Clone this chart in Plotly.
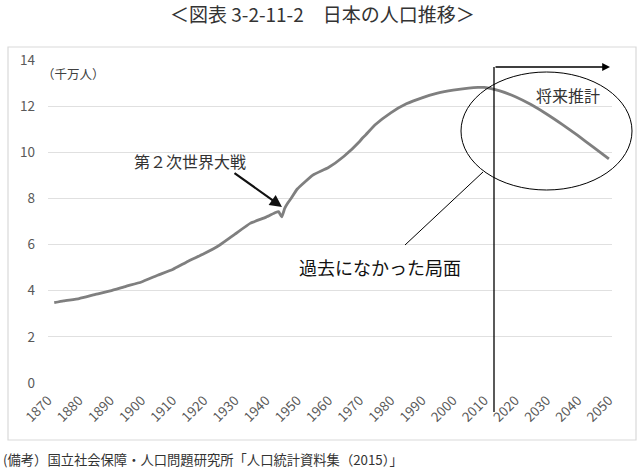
import plotly.graph_objects as go

years = [1872, 1875, 1880, 1885, 1890, 1895, 1900, 1905, 1910, 1915, 1920, 1925,
         1930, 1935, 1940, 1943, 1944, 1945, 1946, 1947, 1948, 1950, 1955, 1960,
         1965, 1970, 1971, 1972, 1975, 1980, 1985, 1990, 1995, 2000, 2005, 2008,
         2010, 2015, 2020, 2025, 2030, 2035, 2040, 2045, 2050]
population = [3.48, 3.56, 3.66, 3.83, 3.99, 4.19, 4.38, 4.66, 4.92, 5.28, 5.60, 5.97,
              6.45, 6.93, 7.19, 7.39, 7.43, 7.20, 7.58, 7.81, 8.00, 8.41, 9.01, 9.34,
              9.83, 10.47, 10.63, 10.76, 11.19, 11.71, 12.10, 12.36, 12.56, 12.69, 12.78, 12.81,
              12.81, 12.66, 12.41, 12.07, 11.66, 11.21, 10.73, 10.22, 9.71]
x_ticks = list(range(1870, 2051, 10))
y_ticks = [0, 2, 4, 6, 8, 10, 12, 14]

title_text = "＜図表 3-2-11-2　日本の人口推移＞"
unit_text = "（千万人）"
war_text = "第２次世界大戦"
future_text = "将来推計"
past_text = "過去になかった局面"
source_text = "(備考）国立社会保障・人口問題研究所「人口統計資料集（2015）」"

FONT = "Noto Sans CJK JP"
L, R, T, B = 48, 27, 60, 87
W, H = 639, 470
PW, PH = W - L - R, H - T - B

def px(xp):
    return (xp - L) / PW

def py(yp):
    return (H - B - yp) / PH

fig = go.Figure()
fig.add_trace(go.Scatter(x=years, y=population, mode="lines",
                         line=dict(color="#7f7f7f", width=2.8, shape="spline", smoothing=0.4),
                         hoverinfo="skip", showlegend=False))

shapes = [
    dict(type="rect", xref="paper", yref="paper", x0=px(8), x1=px(636), y0=py(440), y1=py(47),
         line=dict(color="#d9d9d9", width=1.2), layer="below"),
    dict(type="circle", xref="paper", yref="paper", x0=px(461), x1=px(632), y0=py(190), y1=py(72),
         line=dict(color="#000000", width=1)),
    dict(type="line", xref="paper", yref="paper", x0=px(494), x1=px(494), y0=py(412), y1=py(67),
         line=dict(color="#000000", width=1.3)),
    dict(type="line", xref="paper", yref="paper", x0=px(405), x1=px(483), y0=py(245), y1=py(172),
         line=dict(color="#000000", width=1)),
]

annotations = [
    dict(text=title_text, xref="paper", yref="paper", x=px(322), y=py(13), showarrow=False,
         font=dict(family=FONT, size=19, color="#333333"), xanchor="center", yanchor="middle"),
    dict(text=unit_text, xref="paper", yref="paper", x=px(40), y=py(73), showarrow=False,
         font=dict(family=FONT, size=12.5, color="#404040"), xanchor="left", yanchor="middle"),
    dict(text=war_text, xref="paper", yref="paper", x=px(190), y=py(161), showarrow=False,
         font=dict(family=FONT, size=16, color="#333333"), xanchor="center", yanchor="middle"),
    dict(text=future_text, xref="paper", yref="paper", x=px(568), y=py(95), showarrow=False,
         font=dict(family=FONT, size=16, color="#333333"), xanchor="center", yanchor="middle"),
    dict(text=past_text, xref="paper", yref="paper", x=px(380), y=py(267), showarrow=False,
         font=dict(family=FONT, size=18, color="#111111"), xanchor="center", yanchor="middle"),
    dict(text=source_text, xref="paper", yref="paper", x=px(1), y=py(459), showarrow=False,
         font=dict(family=FONT, size=13.3, color="#333333"), xanchor="left", yanchor="middle"),
    dict(text="", xref="x domain", yref="y domain", axref="x domain", ayref="y domain",
         x=px(282), y=py(207), ax=px(233), ay=py(172), showarrow=True,
         arrowhead=2, arrowsize=1.1, arrowwidth=2.2, arrowcolor="#111111"),
    dict(text="", xref="x domain", yref="y domain", axref="x domain", ayref="y domain",
         x=px(610), y=py(67), ax=px(494), ay=py(67), showarrow=True,
         arrowhead=2, arrowsize=1.2, arrowwidth=1.3, arrowcolor="#000000"),
]

fig.update_layout(
    width=W, height=H,
    margin=dict(l=L, r=R, t=T, b=B),
    paper_bgcolor="white", plot_bgcolor="white",
    shapes=shapes, annotations=annotations,
    xaxis=dict(range=[1870, 2051], tickmode="array", tickvals=x_ticks,
               ticktext=[str(v) for v in x_ticks], tickangle=-45,
               showgrid=False, zeroline=False, showline=False, ticks="",
               ticklabelstandoff=6,
               tickfont=dict(family=FONT, size=13.5, color="#595959")),
    yaxis=dict(range=[0, 14], tickmode="array", tickvals=y_ticks,
               showgrid=True, gridcolor="#e0e0e0", gridwidth=1, zeroline=False,
               showline=False, ticks="", ticklabelstandoff=12,
               tickfont=dict(family=FONT, size=13.5, color="#595959")),
)

fig.write_html("out.html")
